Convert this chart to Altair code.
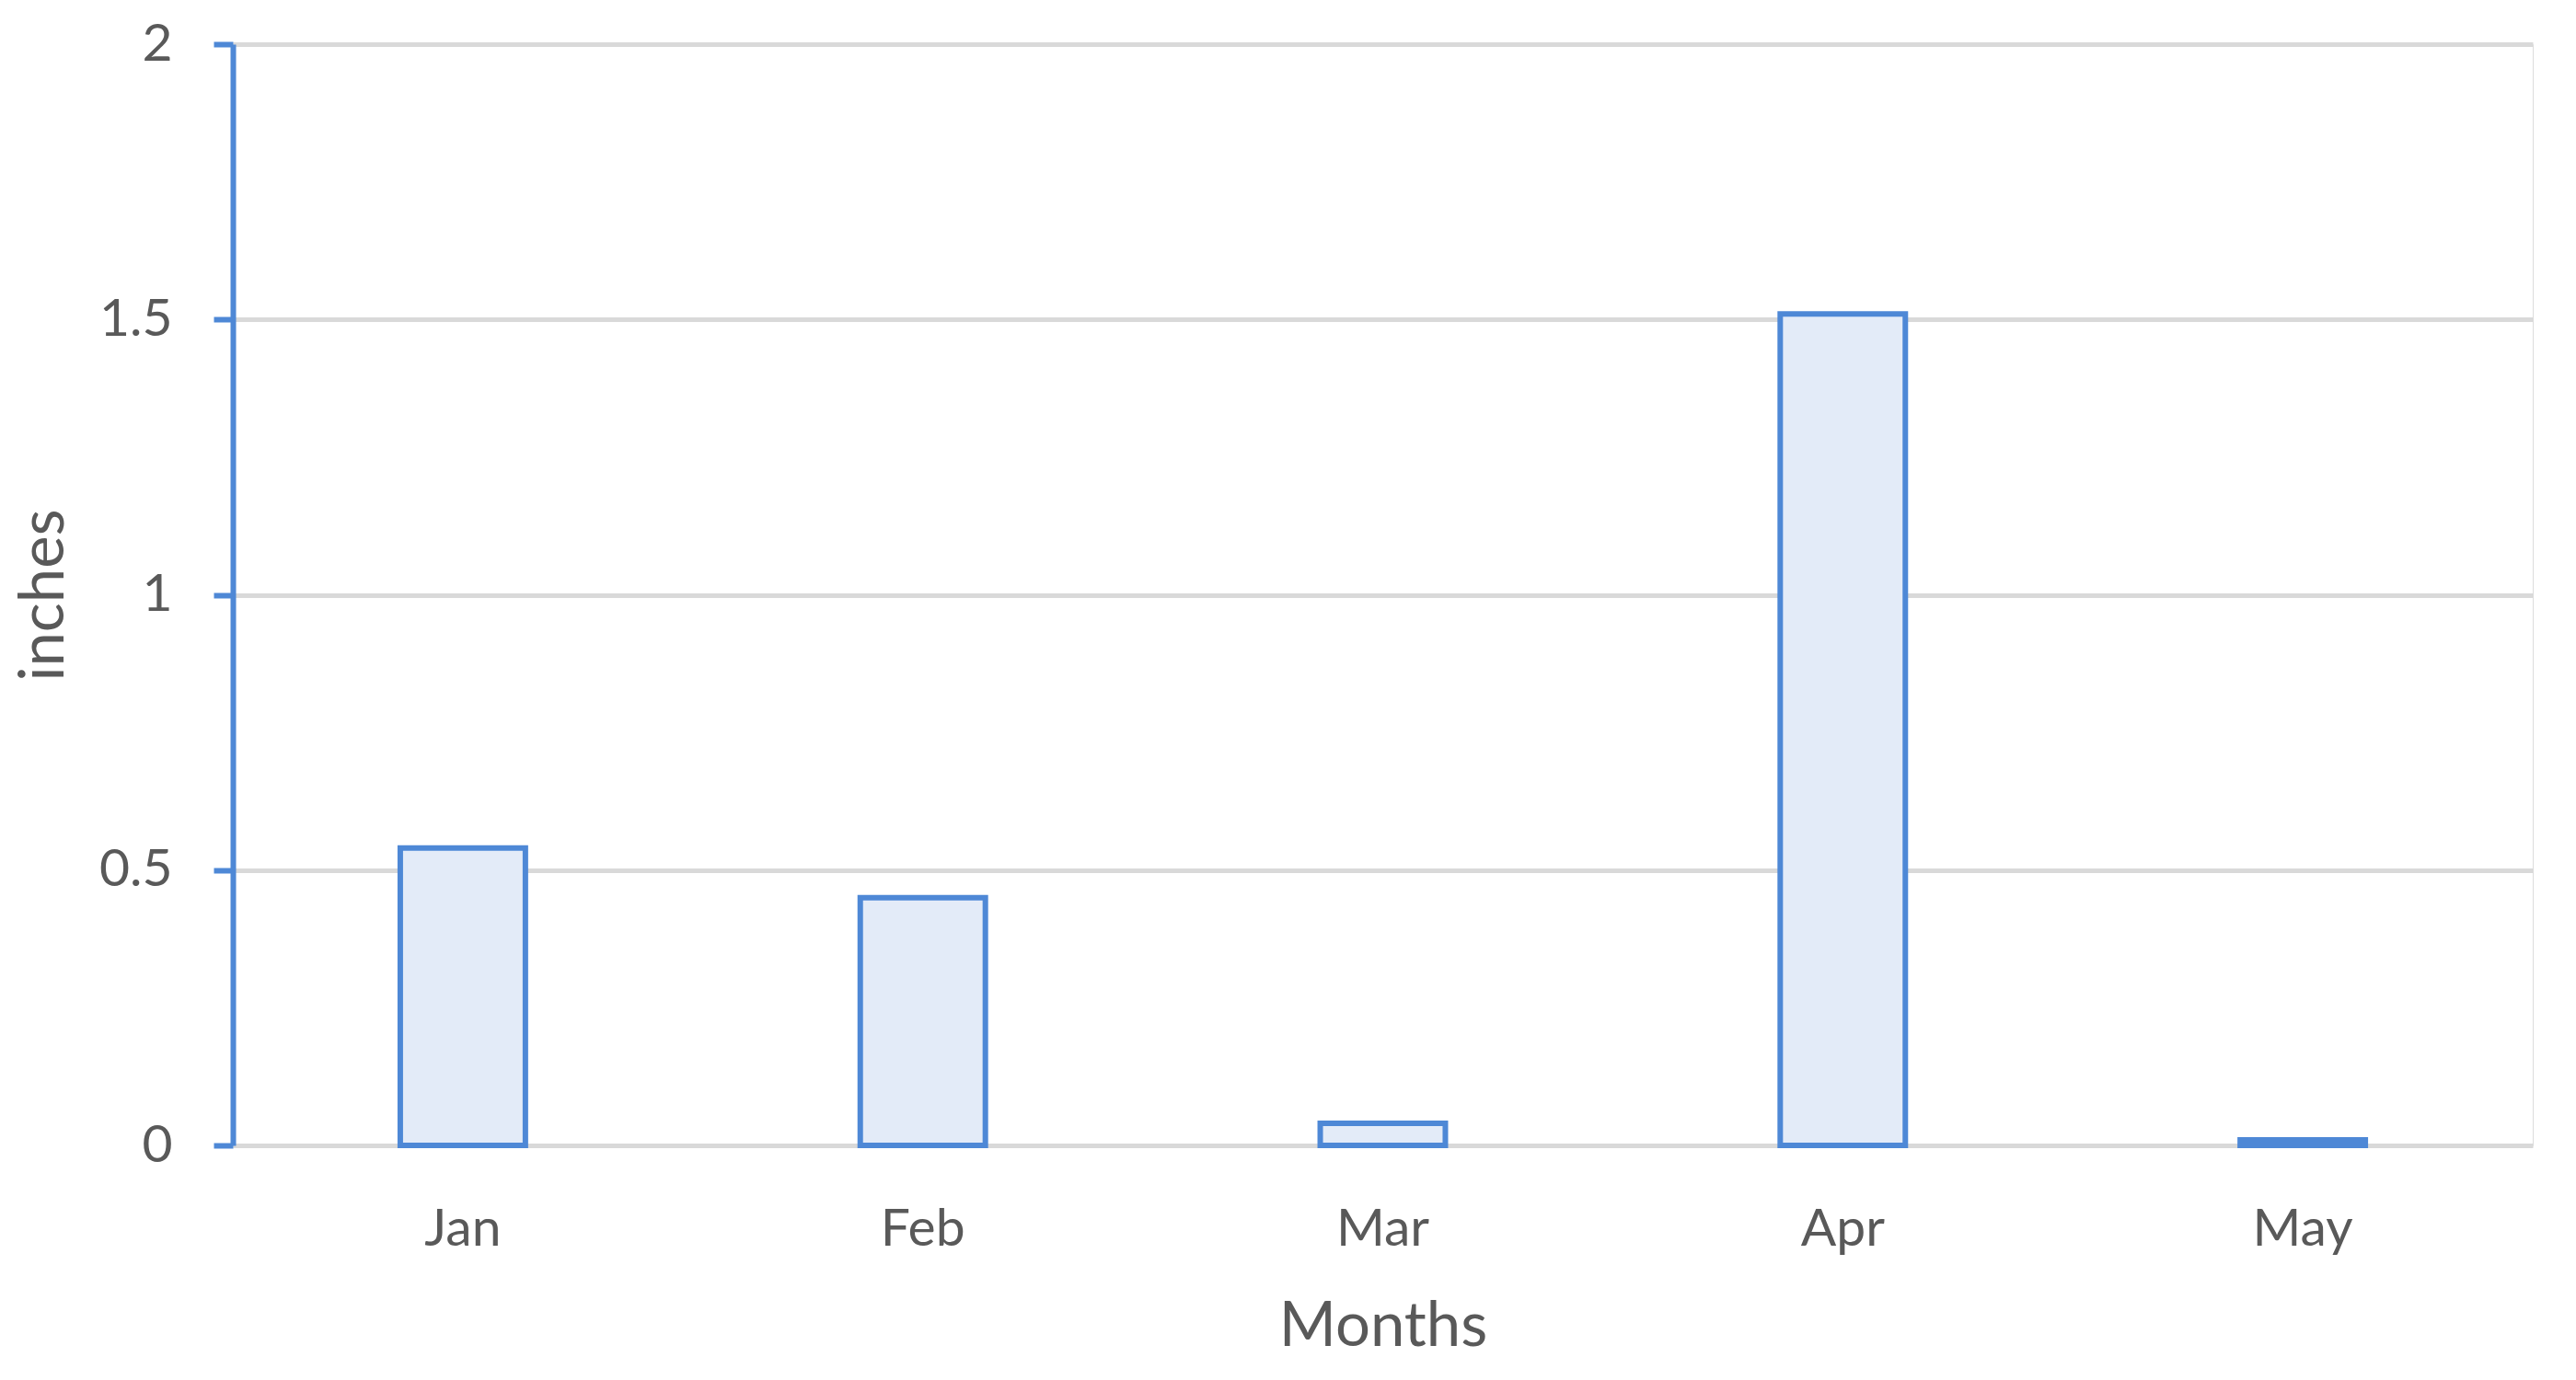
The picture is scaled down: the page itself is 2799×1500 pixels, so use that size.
import altair as alt
import pandas as pd

# ---- data ----
months = ["Jan", "Feb", "Mar", "Apr", "May"]
rainfall = [0.54, 0.45, 0.04, 1.51, 0.01]
y_ticks = [0, 0.5, 1, 1.5, 2]

df = pd.DataFrame({"month": months, "inches": rainfall})

BLUE = "#4e88d6"
TEXT = "#595959"
GRID = "#d9d9d9"
FONT = "Lato"

PLOT_W = 2499
PLOT_H = 1197

chart = (
    alt.Chart(df)
    .mark_bar(
        fill="#e3ebf8",
        stroke=BLUE,
        strokeWidth=6,
        width=alt.RelativeBandSize(0.272),
    )
    .encode(
        x=alt.X(
            "month:N",
            sort=months,
            scale=alt.Scale(paddingInner=0, paddingOuter=0),
            axis=alt.Axis(
                title="Months",
                labelAngle=0,
                domain=False,
                ticks=False,
                grid=False,
                labelFont=FONT,
                labelFontSize=57,
                labelColor=TEXT,
                labelBaseline="alphabetic",
                labelPadding=108,
                titleFont=FONT,
                titleFontSize=67,
                titleFontWeight="normal",
                titleColor=TEXT,
                titleBaseline="alphabetic",
                titleAlign="center",
                titleX=PLOT_W / 2,
                titleY=217,
            ),
        ),
        y=alt.Y(
            "inches:Q",
            scale=alt.Scale(domain=[0, 2], nice=False),
            axis=alt.Axis(
                title="inches",
                values=y_ticks,
                format="~g",
                grid=True,
                gridColor=GRID,
                gridWidth=5,
                domainColor=BLUE,
                domainWidth=6,
                tickColor=BLUE,
                tickWidth=6,
                tickSize=21,
                labelFont=FONT,
                labelFontSize=57,
                labelColor=TEXT,
                labelPadding=45,
                titleFont=FONT,
                titleFontSize=67,
                titleFontWeight="normal",
                titleColor=TEXT,
                titleAngle=-90,
                titleBaseline="alphabetic",
                titleAlign="center",
                titleX=-185,
                titleY=PLOT_H / 2,
            ),
        ),
    )
    .properties(
        width=PLOT_W,
        height=PLOT_H,
        autosize=alt.AutoSizeParams(type="none"),
        padding={"left": 245, "top": 40, "right": 39, "bottom": 247},
    )
    .configure_view(stroke=None)
    .configure(background="white")
)

chart.save("out.html", embed_options={"renderer": "svg", "actions": False})
